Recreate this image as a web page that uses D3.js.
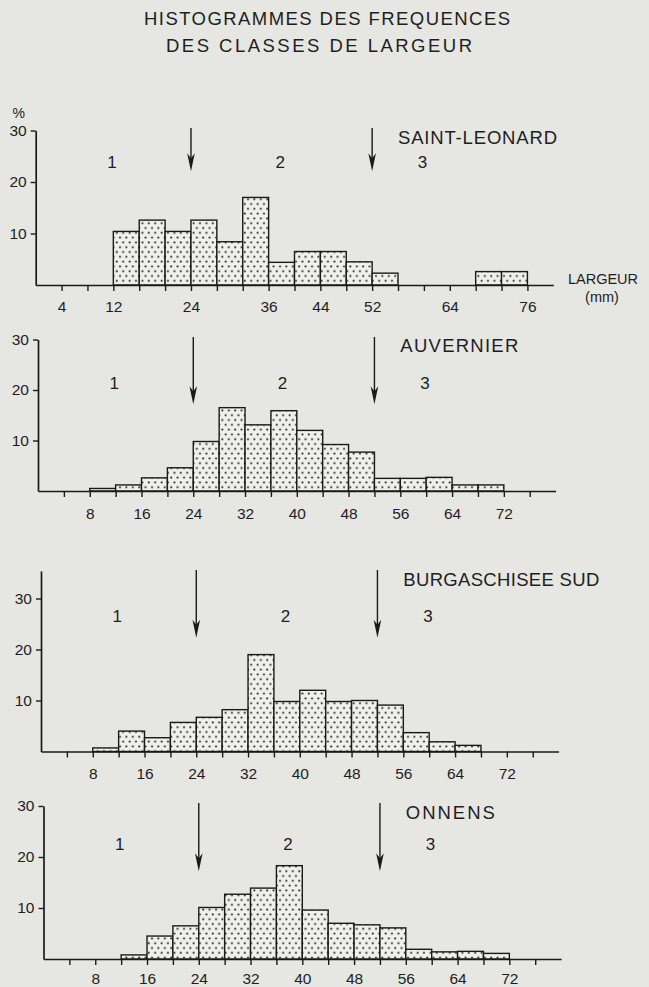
<!DOCTYPE html>
<html>
<head>
<meta charset="utf-8">
<script src="https://cdn.jsdelivr.net/npm/d3@7"></script>
<style>
  html, body { margin: 0; padding: 0; background: #e6e6e3; }
  svg { display: block; }
  text { font-family: "Liberation Sans", Arial, Helvetica, sans-serif; fill: #1e1e1e; }
</style>
</head>
<body>
<div id="chart"></div>
<script>
// Class limits (mm): start of each 4 mm bin
const binStart = [0, 4, 8, 12, 16, 20, 24, 28, 32, 36, 40, 44, 48, 52, 56, 60, 64, 68, 72, 76];

// Frequencies in % per width class
const freqSaintLeonard = [0, 0, 0, 10.4, 12.6, 10.4, 12.6, 8.4, 17.0, 4.4, 6.5, 6.5, 4.5, 2.3, 0, 0, 0, 2.6, 2.6, 0];
const freqAuvernier    = [0, 0, 0.5, 1.2, 2.6, 4.6, 9.8, 16.5, 13.1, 15.9, 12.0, 9.2, 7.7, 2.5, 2.5, 2.7, 1.2, 1.2, 0, 0];
const freqBurgaschisee = [0, 0, 0.7, 4.0, 2.7, 5.7, 6.7, 8.2, 19.0, 9.8, 12.0, 9.8, 10.0, 9.1, 3.7, 1.9, 1.2, 0, 0, 0];
const freqOnnens       = [0, 0, 0, 0.8, 4.5, 6.5, 10.1, 12.7, 13.9, 18.3, 9.6, 7.0, 6.7, 6.1, 1.9, 1.4, 1.5, 1.1, 0, 0];

const siteNames = ["SAINT-LEONARD", "AUVERNIER", "BURGASCHISEE SUD", "ONNENS"];

// Axis ticks
const xTickMarks = [4, 8, 12, 16, 20, 24, 28, 32, 36, 40, 44, 48, 52, 56, 60, 64, 68, 72, 76];
const xLabelsFirst = [4, 12, 24, 36, 44, 52, 64, 76];
const xLabelsOther = [8, 16, 24, 32, 40, 48, 56, 64, 72];
const yTicks = [10, 20, 30];

// Class boundaries (arrows) and class numbers
const classLimits = [24, 52];
const classNames = ["1", "2", "3"];
const classNamePos = [11.8, 37.8, 59.8];

const series = [freqSaintLeonard, freqAuvernier, freqBurgaschisee, freqOnnens];

// page layout of each panel (scanned page is slightly skewed)
const layout = [
  { x0: 35.7, base: 285,   unit: 5.15, axisTop: 30,   titleY: 27.6, arrowTop: 30.5, arrowTip: 22.1, classY: 22.9, titleW: 159, pad: 10 },
  { x0: 38.0, base: 491,   unit: 5.05, axisTop: 30,   titleY: 27.7, arrowTop: 30.5, arrowTip: 17.2, classY: 20.4, titleW: 118, pad: 11 },
  { x0: 41.0, base: 751.5, unit: 5.10, axisTop: 35.4, titleY: 32.6, arrowTop: 35.6, arrowTip: 22.3, classY: 25.6, titleW: 196, pad: 10 },
  { x0: 43.5, base: 959,   unit: 5.10, axisTop: 30,   titleY: 27.6, arrowTop: 30.6, arrowTip: 17.2, classY: 21.6, titleW: 89,  pad: 8 }
];

const pxPerMm = 6.47;
const ink = "#1a1a1a";

const svg = d3.select("#chart").append("svg")
  .attr("width", 649)
  .attr("height", 987);

// stippled fill for the bars
const defs = svg.append("defs");
const pat = defs.append("pattern")
  .attr("id", "dots")
  .attr("patternUnits", "userSpaceOnUse")
  .attr("width", 6.4)
  .attr("height", 9.6);
pat.append("rect").attr("width", 6.4).attr("height", 9.6).attr("fill", "#efefec");
pat.append("circle").attr("cx", 1.6).attr("cy", 2.4).attr("r", 1.05).attr("fill", ink);
pat.append("circle").attr("cx", 4.8).attr("cy", 7.2).attr("r", 1.05).attr("fill", ink);

// Main title
svg.append("text")
  .attr("x", 327).attr("y", 25)
  .attr("text-anchor", "middle")
  .attr("textLength", 366).attr("lengthAdjust", "spacing")
  .style("font-size", "18.5px")
  .text("HISTOGRAMMES DES FREQUENCES");
svg.append("text")
  .attr("x", 319).attr("y", 52)
  .attr("text-anchor", "middle")
  .attr("textLength", 306).attr("lengthAdjust", "spacing")
  .style("font-size", "18.5px")
  .text("DES CLASSES DE LARGEUR");

series.forEach((freq, i) => {
  const L = layout[i];
  const data = binStart.map((s, j) => ({ start: s, value: freq[j] })).filter(d => d.value > 0);

  const x = d3.scaleLinear().domain([0, 80]).range([L.x0, L.x0 + 80 * pxPerMm]);
  const y = d3.scaleLinear().domain([0, L.axisTop]).range([L.base, L.base - L.axisTop * L.unit]);

  const g = svg.append("g");

  // Bars
  g.selectAll(".bar")
    .data(data)
    .enter().append("rect")
    .attr("class", "bar")
    .attr("x", d => x(d.start))
    .attr("width", d => x(d.start + 4) - x(d.start))
    .attr("y", d => y(d.value))
    .attr("height", d => y(0) - y(d.value))
    .attr("fill", "url(#dots)")
    .attr("stroke", ink)
    .attr("stroke-width", 1.4);

  // X axis
  const labels = i === 0 ? xLabelsFirst : xLabelsOther;
  const xAxis = g.append("g")
    .attr("transform", "translate(0," + L.base + ")")
    .call(d3.axisBottom(x)
      .tickValues(xTickMarks)
      .tickSize(6)
      .tickSizeOuter(0)
      .tickPadding(L.pad)
      .tickFormat(d => labels.includes(d) ? d : ""));
  xAxis.select(".domain").attr("stroke", ink).attr("stroke-width", 1.7);
  xAxis.selectAll(".tick line").attr("stroke", ink).attr("stroke-width", 1.4);
  xAxis.selectAll("text").style("font-size", "15.5px").attr("fill", "#1e1e1e")
    .style("font-family", "'Liberation Sans', Arial, sans-serif");

  // Y axis
  const yAxis = g.append("g")
    .attr("transform", "translate(" + L.x0 + ",0)")
    .call(d3.axisLeft(y)
      .tickValues(yTicks)
      .tickSize(5)
      .tickSizeOuter(0)
      .tickPadding(4));
  yAxis.select(".domain").attr("stroke", ink).attr("stroke-width", 1.7);
  yAxis.selectAll(".tick line").attr("stroke", ink).attr("stroke-width", 1.4);
  yAxis.selectAll("text").style("font-size", "15.5px").attr("fill", "#1e1e1e")
    .style("font-family", "'Liberation Sans', Arial, sans-serif");

  // Site name
  g.append("text")
    .attr("x", x(56))
    .attr("y", y(L.titleY) + 1)
    .attr("textLength", L.titleW).attr("lengthAdjust", "spacing")
    .style("font-size", "18.5px")
    .text(siteNames[i]);

  // Arrows at class limits
  classLimits.forEach(c => {
    const ax = x(c), tip = y(L.arrowTip);
    g.append("line")
      .attr("x1", ax).attr("x2", ax)
      .attr("y1", y(L.arrowTop)).attr("y2", tip - 10)
      .attr("stroke", ink).attr("stroke-width", 1.4);
    g.append("path")
      .attr("d", `M${ax - 3.8},${tip - 18} L${ax},${tip - 13} L${ax + 3.8},${tip - 18} L${ax},${tip} Z`)
      .attr("fill", ink);
  });

  // Class numbers
  g.selectAll(".cls")
    .data(classNames)
    .enter().append("text")
    .attr("class", "cls")
    .attr("x", (d, j) => x(classNamePos[j]))
    .attr("y", y(L.classY) + 1)
    .attr("text-anchor", "middle")
    .style("font-size", "17px")
    .text(d => d);

  if (i === 0) {
    g.append("text")
      .attr("x", L.x0 - 17).attr("y", y(30) - 13)
      .attr("text-anchor", "middle")
      .style("font-size", "14px")
      .text("%");
    g.append("text")
      .attr("x", 568).attr("y", L.base - 1)
      .attr("textLength", 70).attr("lengthAdjust", "spacing")
      .style("font-size", "14.5px")
      .text("LARGEUR");
    g.append("text")
      .attr("x", 602).attr("y", L.base + 17)
      .attr("text-anchor", "middle")
      .style("font-size", "14.5px")
      .text("(mm)");
  }
});
</script>
</body>
</html>
